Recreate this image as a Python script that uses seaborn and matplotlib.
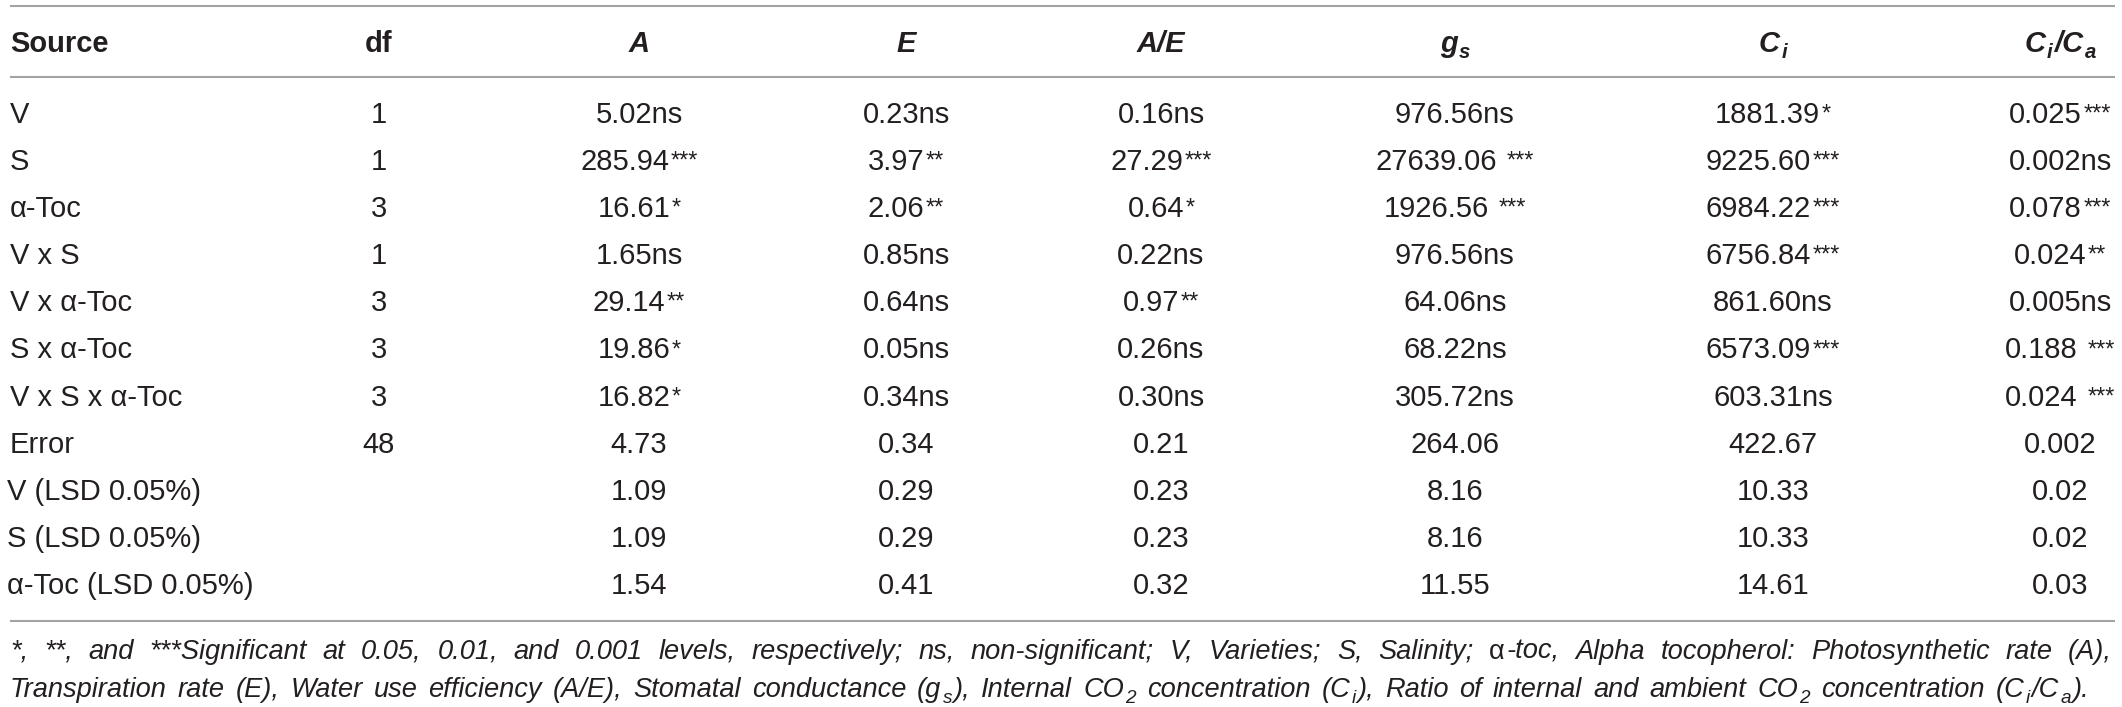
import re
import matplotlib
matplotlib.use("Agg")
import matplotlib.pyplot as plt
import seaborn as sns

# ---- table content ----
headers = ["Source", "df", "A", "E", "A/E", "g_{s}", "C_{i}", "C_{i}/C_{a}"]
sources = ["V", "S", "α-Toc", "V x S", "V x α-Toc", "S x α-Toc", "V x S x α-Toc",
           "Error", "V (LSD 0.05%)", "S (LSD 0.05%)", "α-Toc (LSD 0.05%)"]
df_vals = ["1", "1", "3", "1", "3", "3", "3", "48", "", "", ""]
A_vals = ["5.02ns", "285.94***", "16.61*", "1.65ns", "29.14**", "19.86*", "16.82*",
          "4.73", "1.09", "1.09", "1.54"]
E_vals = ["0.23ns", "3.97**", "2.06**", "0.85ns", "0.64ns", "0.05ns", "0.34ns",
          "0.34", "0.29", "0.29", "0.41"]
AE_vals = ["0.16ns", "27.29***", "0.64*", "0.22ns", "0.97**", "0.26ns", "0.30ns",
           "0.21", "0.23", "0.23", "0.32"]
gs_vals = ["976.56ns", "27639.06 ***", "1926.56 ***", "976.56ns", "64.06ns", "68.22ns",
           "305.72ns", "264.06", "8.16", "8.16", "11.55"]
Ci_vals = ["1881.39*", "9225.60***", "6984.22***", "6756.84***", "861.60ns", "6573.09***",
           "603.31ns", "422.67", "10.33", "10.33", "14.61"]
CiCa_vals = ["0.025***", "0.002ns", "0.078***", "0.024**", "0.005ns", "0.188 ***",
             "0.024 ***", "0.002", "0.02", "0.02", "0.03"]

foot_1 = ("*, **, and ***Significant at 0.05, 0.01, and 0.001 levels, respectively; "
          "ns, non-significant; V, Varieties; S, Salinity; α-toc, Alpha tocopherol: "
          "Photosynthetic rate (A),")
foot_2 = ("Transpiration rate (E), Water use efficiency (A/E), Stomatal conductance (g_{s}), "
          "Internal CO_{2} concentration (C_{i}), Ratio of internal and ambient CO_{2} "
          "concentration (C_{i}/C_{a}).")

# ---- layout ----
W, H = 2122, 707
col_x = [10, 379, 639, 906, 1161, 1455, 1773, 2060]
head_base = 52
row0, row_step = 122.7, 47.14
rules = [5.7, 77, 621]
foot_base = [659, 697]
ink = "#231F20"
rule_col = "#A3A3A3"
fs_tab = 21
fs_foot = 19.6

sns.set_theme(style="white")
plt.rcParams["font.family"] = ["Liberation Sans", "DejaVu Sans"]

fig = plt.figure(figsize=(W / 100, H / 100), dpi=100)
ax = fig.add_axes([0, 0, 1, 1])
ax.set_xlim(0, W)
ax.set_ylim(H, 0)
ax.axis("off")
rend = fig.canvas.get_renderer()


def runs_of(markup, fs, weight, style):
    em = fs * 100 / 72
    out = []
    for part in re.split(r"([_^]\{[^}]*\})", markup):
        if not part:
            continue
        if part[0] in "_^" and part[1:2] == "{":
            if part[0] == "_":
                out.append((part[2:-1], fs * 0.7, weight, style, 0.22 * em))
            else:
                # significance stars, a bit smaller and lifted
                out.append((part[2:-1], fs * 0.8, weight, style, -0.08 * em))
        elif style == "italic":
            for q in re.split("(α)", part):
                if q:
                    out.append((q, fs, weight, "normal" if q == "α" else style, 0))
        else:
            out.append((part, fs, weight, style, 0))
    return out


def build(runs, y):
    items = []
    for text, fs, fw, st, dy in runs:
        core = text.strip(" ")
        sp = 0.278 * fs * 100 / 72
        lead = (len(text) - len(text.lstrip(" "))) * sp
        trail = (len(text) - len(text.rstrip(" "))) * sp
        t = ax.text(0, y + dy, core, fontsize=fs, fontweight=fw, fontstyle=st,
                    color=ink, va="baseline", ha="left")
        w = t.get_window_extent(renderer=rend).width
        items.append((t, lead, w, trail))
    return items


def width_of(items, pad=1.5):
    return sum(l + w + r for _, l, w, r in items) + pad * (len(items) - 1)


def place(items, x, ha="left", pad=1.5):
    if ha == "center":
        x -= width_of(items, pad) / 2
    for t, l, w, r in items:
        x += l
        t.set_x(x)
        x += w + r + pad


def value_markup(s):
    return re.sub(r"(\*+)$", r"^{\1}", s)


# rules
ax.hlines(rules, 10, 2115, color=rule_col, lw=1.5)

# header
for i, h in enumerate(headers):
    style = "normal" if i < 2 else "italic"
    items = build(runs_of(h, fs_tab, "bold", style), head_base)
    place(items, col_x[i], "left" if i == 0 else "center")

# body
columns = [df_vals, A_vals, E_vals, AE_vals, gs_vals, Ci_vals, CiCa_vals]
for r, src in enumerate(sources):
    y = row0 + r * row_step
    x_src = 7 if "LSD" in src else col_x[0]
    place(build(runs_of(src, fs_tab, "normal", "normal"), y), x_src)
    for c, col in enumerate(columns):
        if col[r]:
            items = build(runs_of(value_markup(col[r]), fs_tab, "normal", "normal"), y)
            place(items, col_x[c + 1], "center")

# footnote, justified
for line, y, x_end in [(foot_1, foot_base[0], 2112), (foot_2, foot_base[1], 2089)]:
    words = [build(runs_of(w, fs_foot, "normal", "italic"), y) for w in line.split(" ")]
    widths = [width_of(w) for w in words]
    gap = (x_end - 10 - sum(widths)) / (len(words) - 1)
    x = 10
    for w, wd in zip(words, widths):
        place(w, x)
        x += wd + gap

fig.savefig("out.png", dpi=100, facecolor="white")
